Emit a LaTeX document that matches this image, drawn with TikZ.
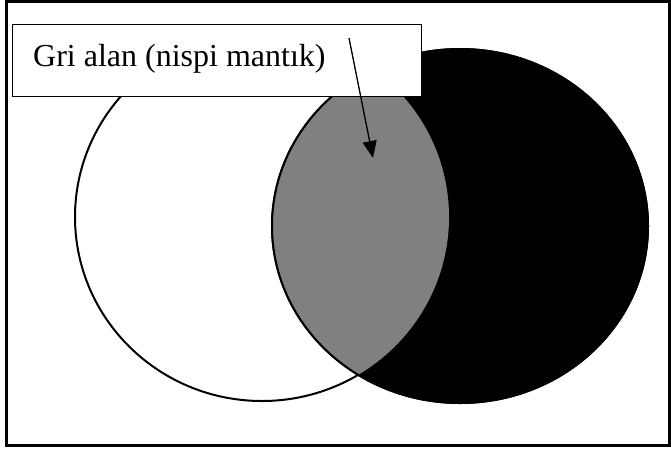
\documentclass[tikz,border=0pt]{standalone}
\usepackage{fontspec}
\setmainfont{Liberation Serif}
\usetikzlibrary{arrows.meta}
\definecolor{midgray}{RGB}{128,128,128}
\tikzset{
  labelbox/.style={draw=black, line width=1.2pt, fill=white, rectangle, inner sep=0pt, anchor=north west},
  labeltext/.style={inner sep=0pt, anchor=base west, font=\fontsize{32}{38}\selectfont},
  pointer/.style={draw=black, line width=1.3pt, -{Triangle[length=17pt,width=14pt]}}
}
\begin{document}
\begin{tikzpicture}[x=1pt,y=-1pt]
\useasboundingbox (0,0) rectangle (671,451);
\fill[white] (0,0) rectangle (671,451);
% outer frame
\draw[line width=3pt] (6.5,1.5) rectangle (669.5,445.5);
% left (white) circle
\filldraw[fill=white, draw=black, line width=2pt] (262,217) ellipse [x radius=187, y radius=184];
% right (black) circle
\filldraw[fill=black, draw=black, line width=2pt] (460,226) ellipse [x radius=188, y radius=177];
% grey intersection
\begin{scope}
  \clip (262,217) ellipse [x radius=187, y radius=184];
  \fill[midgray] (460,226) ellipse [x radius=188, y radius=177];
\end{scope}
\draw[black, line width=2pt] (460,226) ellipse [x radius=188, y radius=177];
% label box
\node[labelbox, minimum width=409pt, minimum height=72pt] (box) at (12,24) {};
\node[labeltext] (lbl) at (33,66) {Gri alan (nispi mantık)};
\coordinate (astart) at (349,38);
\coordinate (atip) at (373,158);
\draw[pointer] (astart) -- (atip);
\end{tikzpicture}
\end{document}
